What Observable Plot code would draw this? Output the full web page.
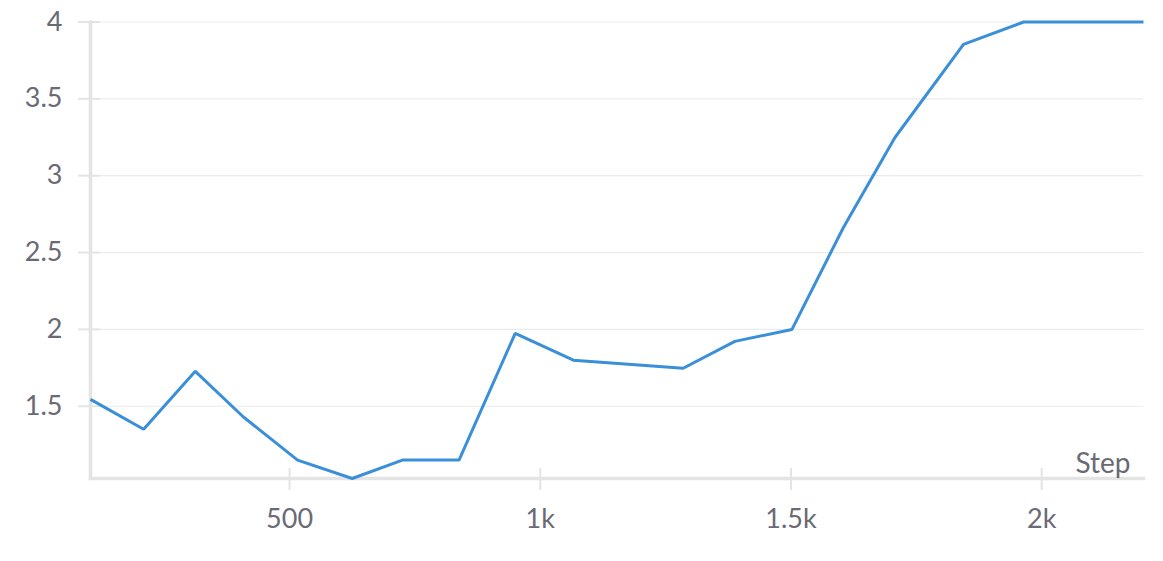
<!DOCTYPE html>
<html>
<head>
<meta charset="utf-8">
<script src="https://cdn.jsdelivr.net/npm/d3@7"></script>
<script src="https://cdn.jsdelivr.net/npm/@observablehq/plot@0.6"></script>
<style>
  html, body { margin: 0; padding: 0; background: #fff; }
</style>
</head>
<body>
<div id="chart"></div>
<script>
const steps = [103, 209, 312, 408, 516, 625, 725, 838, 950, 1066, 1285, 1388, 1502, 1604, 1707, 1844, 1964, 2203];
const values = [1.545, 1.35, 1.727, 1.43, 1.15, 1.03, 1.15, 1.15, 1.974, 1.80, 1.747, 1.922, 2.0, 2.66, 3.247, 3.854, 4.0, 4.0];
const yTicks = [1.5, 2, 2.5, 3, 3.5, 4];
const yTickLabels = ["1.5", "2", "2.5", "3", "3.5", "4"];
const xTicks = [500, 1000, 1500, 2000];
const xTickLabels = ["500", "1k", "1.5k", "2k"];
const xLabel = "Step";

const data = steps.map((s, i) => ({step: s, value: values[i]}));
const textColor = "#6a6a75";
const axisColor = "#e4e4e4";
const gridColor = "#ebebeb";
const lineColor = "#3a8fd8";
const font = "Lato, 'Source Sans Pro', sans-serif";

const chart = Plot.plot({
  width: 1163,
  height: 561,
  marginLeft: 90,
  marginRight: 20,
  marginTop: 21.5,
  marginBottom: 83,
  style: {fontFamily: font, background: "transparent"},
  x: {domain: [103, 2203]},
  y: {domain: [1.03, 4]},
  marks: [
    Plot.gridY(yTicks, {stroke: gridColor, strokeOpacity: 1, strokeWidth: 1.2}),
    // y tick marks crossing the axis line
    Plot.axisY(yTicks, {tickSize: 22, dx: 10, tickFormat: () => "", stroke: axisColor, strokeWidth: 2, strokeOpacity: 1, label: null}),
    // y labels
    Plot.axisY(yTicks, {tickSize: 0, tickPadding: 28, tickFormat: d => yTickLabels[yTicks.indexOf(d)], fill: textColor, fontSize: 27, label: null}),
    // x tick marks crossing the axis line
    Plot.axisX(xTicks, {tickSize: 22, dy: -10, tickFormat: () => "", stroke: axisColor, strokeWidth: 2, strokeOpacity: 1, label: null}),
    // x labels
    Plot.axisX(xTicks, {tickSize: 0, tickPadding: 30, tickFormat: d => xTickLabels[xTicks.indexOf(d)], fill: textColor, fontSize: 27, label: null}),
    Plot.frame({anchor: "left", stroke: axisColor, strokeWidth: 3.5, strokeOpacity: 1}),
    Plot.frame({anchor: "bottom", stroke: axisColor, strokeWidth: 3.5, strokeOpacity: 1}),
    Plot.line(data, {x: "step", y: "value", stroke: lineColor, strokeWidth: 3, strokeLinejoin: "miter", strokeLinecap: "butt"}),
    Plot.text([xLabel], {frameAnchor: "bottom-right", text: d => d, textAnchor: "end", lineAnchor: "bottom", dx: -13, dy: -6, fill: textColor, fontSize: 28})
  ]
});
document.getElementById("chart").append(chart);
</script>
</body>
</html>
